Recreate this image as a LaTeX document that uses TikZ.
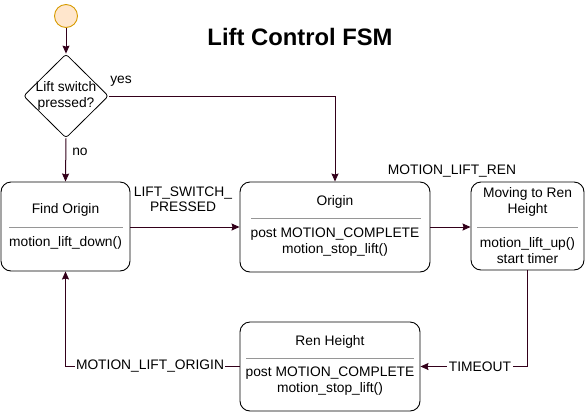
\documentclass[tikz,border=0pt]{standalone}
\usepackage{fontspec}
\setmainfont{Liberation Sans}
\usetikzlibrary{arrows.meta,shapes.geometric}
\definecolor{wire}{RGB}{51,0,26}
\definecolor{startfill}{RGB}{255,230,204}
\definecolor{startdraw}{RGB}{215,155,0}
\definecolor{sepgray}{RGB}{150,150,150}
\tikzset{
  txt/.style={font=\fontsize{13.8}{16}\selectfont, align=center, inner sep=1pt},
  statebox/.style={draw=black, line width=0.9pt, rounded corners=10pt, fill=white, inner sep=0pt},
  sepline/.style={draw=sepgray, line width=0.7pt},
  conn/.style={draw=wire, line width=1pt, -{Stealth[length=8pt,width=7pt,inset=1pt]}},
  plain/.style={draw=wire, line width=1pt},
  lbl/.style={txt, fill=white, inner sep=1.5pt},
}
\begin{document}
\begin{tikzpicture}[x=1pt,y=-1pt]
\useasboundingbox (0,0) rectangle (586,413);
% title
\node[font=\fontsize{23.8}{28}\selectfont\bfseries, inner sep=0pt] (title) at (300,37) {Lift Control FSM};
% start
\node[circle, draw=startdraw, fill=startfill, line width=0.9pt, minimum size=23pt, inner sep=0pt] (start) at (66,16) {};
% decision
\node[diamond, draw=black, line width=0.8pt, rounded corners=3pt, minimum width=85pt, minimum height=84pt, inner sep=0pt, fill=white] (dia) at (66,96) {};
\node[txt] (diatxt) at (66,96) {Lift switch\\pressed?};
% boxes
\node[statebox, minimum width=129pt, minimum height=89pt] (find) at (65.5,226.5) {};
\node[statebox, minimum width=190pt, minimum height=90pt] (origin) at (335,227) {};
\node[statebox, minimum width=113pt, minimum height=88pt] (moving) at (527.5,226) {};
\node[statebox, minimum width=180pt, minimum height=89pt] (ren) at (330,366.5) {};
% box texts
\node[txt] (findT) at (65.5,210) {Find Origin};
\node[txt] (findA) at (65.5,243) {motion\_lift\_down()};
\draw[sepline] (9,227) -- (123,227);
\node[txt] (originT) at (335,202) {Origin};
\node[txt] (originA) at (335,242.5) {post MOTION\_COMPLETE\\motion\_stop\_lift()};
\draw[sepline] (251,218) -- (421,218);
\node[txt] (movingT) at (527.5,202) {Moving to Ren\\Height};
\node[txt] (movingA) at (527.5,250.5) {motion\_lift\_up()\\start timer};
\draw[sepline] (477,227) -- (578,227);
\node[txt] (renT) at (330,342) {Ren Height};
\node[txt] (renA) at (330,381) {post MOTION\_COMPLETE\\motion\_stop\_lift()};
\draw[sepline] (246,358) -- (414,358);
% connectors
\draw[conn] (start) -- (dia.north);
\draw[conn] (dia.east) -| (origin.north);
\draw[conn] (dia.south) -- (find.north);
\draw[conn] (find.east |- 0,227) -- (origin.west |- 0,227);
\draw[conn] (origin.east |- 0,227) -- (moving.west |- 0,227);
\draw[conn] (moving.south) |- (ren.east);
\draw[conn] (ren.west) -| (find.south);
% labels
\node[txt] (lyes) at (121,81) {yes};
\node[txt] (lno) at (80,152) {no};
\node[txt, font=\fontsize{13.8}{15}\selectfont] (llift) at (183,199.5) {LIFT\_SWITCH\_\\PRESSED};
\node[txt] (lren) at (452,171) {MOTION\_LIFT\_REN};
\node[lbl] (ltime) at (480,366.5) {TIMEOUT};
\node[lbl] (lorig) at (150,366.5) {MOTION\_LIFT\_ORIGIN};
\end{tikzpicture}
\end{document}
